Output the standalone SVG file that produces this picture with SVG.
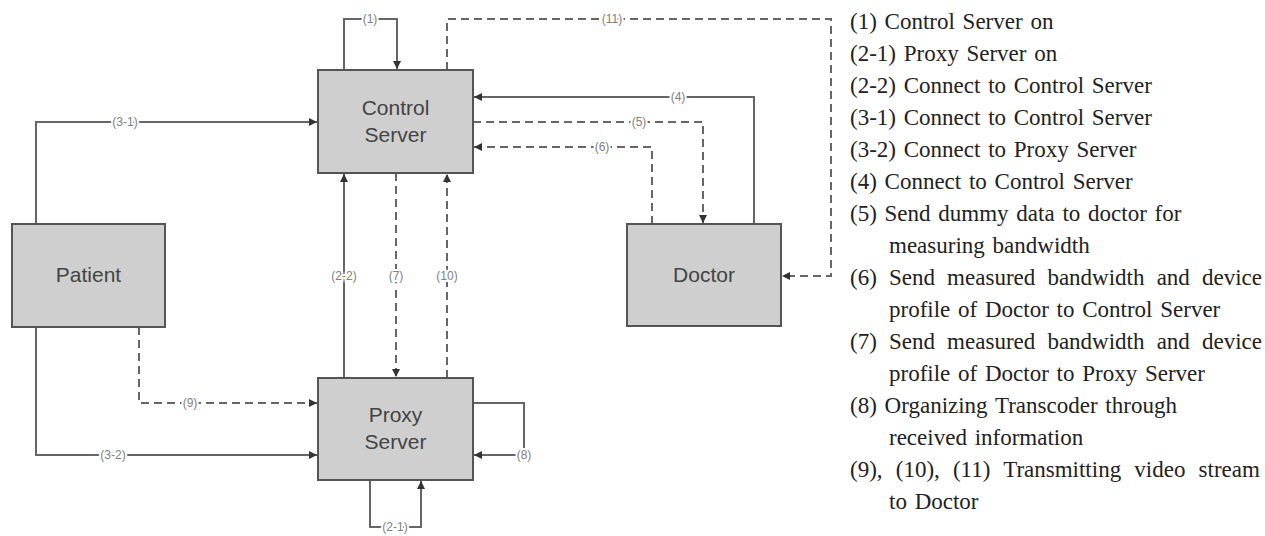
<svg xmlns="http://www.w3.org/2000/svg" width="1265" height="536" viewBox="0 0 1265 536">
<defs>
<marker id="arr" markerUnits="userSpaceOnUse" markerWidth="9" markerHeight="9" refX="8" refY="4" orient="auto">
<path d="M0,0 L8,4 L0,8 z" fill="#333"/>
</marker>
<style>
.box{fill:#cfcfcf;stroke:#555;stroke-width:2}
.bt{font-family:"Liberation Sans",Arial,sans-serif;font-size:21px;fill:#444;text-anchor:middle}
.c{fill:none;stroke:#666;stroke-width:2}
.d{stroke-dasharray:8 5}
.a{marker-end:url(#arr)}
.lb{font-family:"Liberation Sans",Arial,sans-serif;font-size:12px;fill:#808080;text-anchor:middle;stroke:#fff;stroke-width:4;paint-order:stroke}
.lg{font-family:"Liberation Serif","Times New Roman",serif;font-size:23px;fill:#222;word-spacing:2px}
.j6{word-spacing:6.4px}
.j9{word-spacing:7.4px}
</style>
</defs>
<rect width="1265" height="536" fill="#fff"/>
<g id="connectors">
<path class="c a" d="M344,70 V19 H397 V69"/>
<path class="c d a" d="M447,70 V19 H831 V276 H782"/>
<path class="c a" d="M754,224 V97 H474"/>
<path class="c d a" d="M473,122 H703 V223"/>
<path class="c d a" d="M652,224 V147 H474"/>
<path class="c a" d="M36,224 V122 H317"/>
<path class="c a" d="M36,327 V455 H317"/>
<path class="c d a" d="M139,327 V403 H317"/>
<path class="c a" d="M344,378 V174"/>
<path class="c d a" d="M396,173 V377"/>
<path class="c d a" d="M447,378 V174"/>
<path class="c a" d="M473,403 H524 V455 H474"/>
<path class="c a" d="M370,480 V527 H421 V481"/>
<text class="lb" x="370" y="23">(1)</text>
<text class="lb" x="612" y="23">(11)</text>
<text class="lb" x="678" y="101">(4)</text>
<text class="lb" x="639" y="126">(5)</text>
<text class="lb" x="602" y="151">(6)</text>
<text class="lb" x="125" y="126">(3-1)</text>
<text class="lb" x="113" y="459">(3-2)</text>
<text class="lb" x="190" y="407">(9)</text>
<text class="lb" x="344" y="280">(2-2)</text>
<text class="lb" x="396" y="280">(7)</text>
<text class="lb" x="447" y="280">(10)</text>
<text class="lb" x="524" y="459">(8)</text>
<text class="lb" x="395" y="531">(2-1)</text>
</g>
<g id="control-server">
<rect class="box" x="318" y="70" width="155" height="103"/>
<text class="bt" x="395.5" y="115">Control</text>
<text class="bt" x="395.5" y="142">Server</text>
</g>
<g id="patient">
<rect class="box" x="12" y="224" width="153" height="103"/>
<text class="bt" x="88.5" y="282">Patient</text>
</g>
<g id="proxy-server">
<rect class="box" x="318" y="378" width="155" height="102"/>
<text class="bt" x="395.5" y="422">Proxy</text>
<text class="bt" x="395.5" y="449">Server</text>
</g>
<g id="doctor">
<rect class="box" x="627" y="224" width="154" height="102"/>
<text class="bt" x="704" y="282">Doctor</text>
</g>
<g id="legend">
<text class="lg" x="850" y="29">(1) Control Server on</text>
<text class="lg" x="850" y="61">(2-1) Proxy Server on</text>
<text class="lg" x="850" y="93">(2-2) Connect to Control Server</text>
<text class="lg" x="850" y="125">(3-1) Connect to Control Server</text>
<text class="lg" x="850" y="157">(3-2) Connect to Proxy Server</text>
<text class="lg" x="850" y="189">(4) Connect to Control Server</text>
<text class="lg" x="850" y="221">(5) Send dummy data to doctor for</text>
<text class="lg" x="889" y="253">measuring bandwidth</text>
<text class="lg j6" x="850" y="285">(6) Send measured bandwidth and device</text>
<text class="lg" x="889" y="317">profile of Doctor to Control Server</text>
<text class="lg j6" x="850" y="349">(7) Send measured bandwidth and device</text>
<text class="lg" x="889" y="381">profile of Doctor to Proxy Server</text>
<text class="lg" x="850" y="413">(8) Organizing Transcoder through</text>
<text class="lg" x="889" y="445">received information</text>
<text class="lg j9" x="850" y="477">(9), (10), (11) Transmitting video stream</text>
<text class="lg" x="889" y="509">to Doctor</text>
</g>
</svg>
